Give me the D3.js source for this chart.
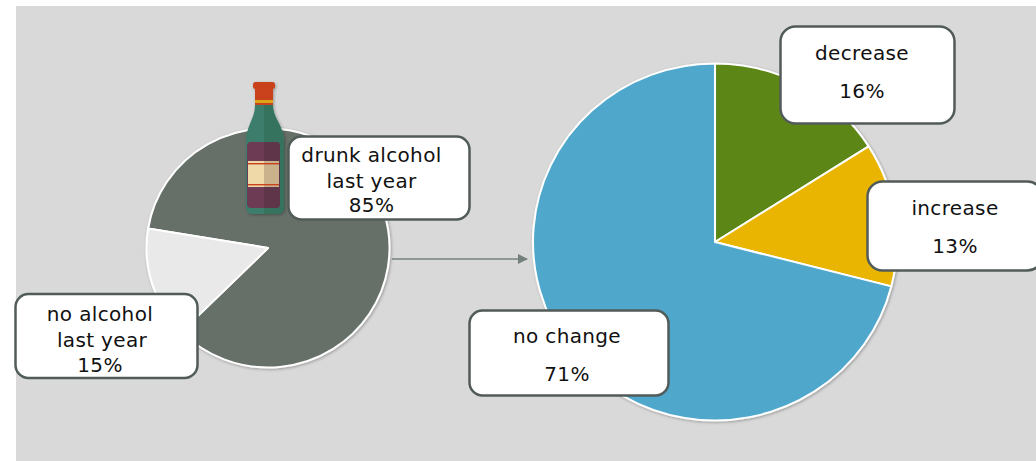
<!DOCTYPE html>
<html>
<head>
<meta charset="utf-8">
<script src="https://cdn.jsdelivr.net/npm/d3@7"></script>
<style>
html,body{margin:0;padding:0;background:#fff;overflow:hidden}
text{font-family:"DejaVu Sans",sans-serif;fill:#111}
</style>
</head>
<body>
<svg id="c" width="1036" height="461"></svg>
<script>
const leftCategories = ["drunk alcohol last year", "no alcohol last year"];
const leftValues = [85, 15];
const leftColors = ["#667067", "#e9e9e9"];
const rightCategories = ["decrease", "increase", "no change"];
const rightValues = [16, 13, 71];
const rightColors = ["#5c8616", "#e9b500", "#4fa8cc"];

const leftLabelLines = [["drunk alcohol", "last year", "85%"], ["no alcohol", "last year", "15%"]];
const rightLabelLines = [["decrease", "16%"], ["increase", "13%"], ["no change", "71%"]];

const svg = d3.select("#c");
const defs = svg.append("defs");
const f = defs.append("filter").attr("id","sh").attr("x","-10%").attr("y","-10%").attr("width","120%").attr("height","120%");
f.append("feDropShadow").attr("dx",1).attr("dy",1).attr("stdDeviation",1.5).attr("flood-color","#000").attr("flood-opacity",0.3);
const m = defs.append("marker").attr("id","ah").attr("viewBox","0 0 10 10").attr("refX",9).attr("refY",5)
  .attr("markerWidth",10).attr("markerHeight",10).attr("markerUnits","userSpaceOnUse").attr("orient","auto");
m.append("path").attr("d","M0,0L10,5L0,10Z").attr("fill","#74807a");

svg.append("rect").attr("x",16).attr("y",6).attr("width",1020).attr("height",455).attr("fill","#d9d9d9");

function drawPie(cx, cy, rx, ry, values, colors, start){
  const pie = d3.pie().sort(null).startAngle(start).endAngle(start + 2*Math.PI);
  const arc = d3.arc().innerRadius(0).outerRadius(ry);
  const g = svg.append("g").attr("filter","url(#sh)")
    .append("g").attr("transform",`translate(${cx},${cy}) scale(${rx/ry},1)`);
  g.selectAll("path").data(pie(values)).join("path")
    .attr("d",arc).attr("fill",(d,i)=>colors[i]).attr("stroke","#fff").attr("stroke-width",2).attr("stroke-linejoin","round");
}
const deg = Math.PI/180;
drawPie(268,248,121.5,119.5,leftValues,leftColors,279.4*deg);
drawPie(715,242,182,178.5,rightValues,rightColors,0);

svg.append("line").attr("x1",392).attr("y1",259).attr("x2",527).attr("y2",259)
  .attr("stroke","#74807a").attr("stroke-width",1.6).attr("marker-end","url(#ah)");

// bottle icon
const b = svg.append("g").attr("filter","url(#sh)");
b.append("path").attr("d","M255,100 L273,100 L273,106 C273,118 284,126 284,142 L284,207 Q284,214 277,214 L253,214 Q246,214 246,207 L246,142 C246,126 255,118 255,106 Z").attr("fill","#3c7d6c");
b.append("path").attr("d","M264,100 L273,100 L273,106 C273,118 284,126 284,142 L284,207 Q284,214 277,214 L264,214 Z").attr("fill","#35735f");
b.append("rect").attr("x",253).attr("y",82).attr("width",22).attr("height",7).attr("rx",2.5).attr("fill","#c9421b");
b.append("rect").attr("x",255).attr("y",87).attr("width",18).attr("height",18).attr("fill","#c9421b");
b.append("rect").attr("x",255).attr("y",100).attr("width",18).attr("height",3).attr("fill","#dca413");
b.append("rect").attr("x",247).attr("y",142).attr("width",33).attr("height",66).attr("rx",4).attr("fill","#6d3a52");
b.append("path").attr("d","M264,142 L276,142 Q280,142 280,146 L280,204 Q280,208 276,208 L264,208 Z").attr("fill","#5e3648");
b.append("rect").attr("x",248).attr("y",161).attr("width",16).attr("height",26).attr("fill","#f0d9a8");
b.append("rect").attr("x",264).attr("y",161).attr("width",15).attr("height",26).attr("fill","#c9b28c");
b.selectAll(".st").data([163,184]).join("rect").attr("x",248).attr("y",d=>d).attr("width",31).attr("height",1.4).attr("fill","#c9421b");

function box(x,y,w,h,rx,lines,ys,cx){
  const g = svg.append("g");
  g.append("rect").attr("x",x).attr("y",y).attr("width",w).attr("height",h).attr("rx",rx)
    .attr("fill","#fff").attr("stroke","#515b59").attr("stroke-width",2.5);
  g.selectAll("text").data(lines).join("text")
    .attr("x",(d,i)=>cx[i]).attr("y",(d,i)=>ys[i]).attr("text-anchor","middle")
    .attr("font-size",20).attr("letter-spacing",0.35).text(d=>d);
}
box(288.5,136.5,181,83,13,leftLabelLines[0],[162,188,212],[371.5,371.5,371.5]);
box(15.5,294,182,84,13,leftLabelLines[1],[321,347,372],[100,102,100]);
box(780.5,26.5,174,97,15,rightLabelLines[0],[60,98],[862,862]);
box(867.5,181.5,175,89,15,rightLabelLines[1],[215,253],[955,955]);
box(469.5,310.5,199,85,13,rightLabelLines[2],[343,381],[567,567]);
</script>
</body>
</html>
